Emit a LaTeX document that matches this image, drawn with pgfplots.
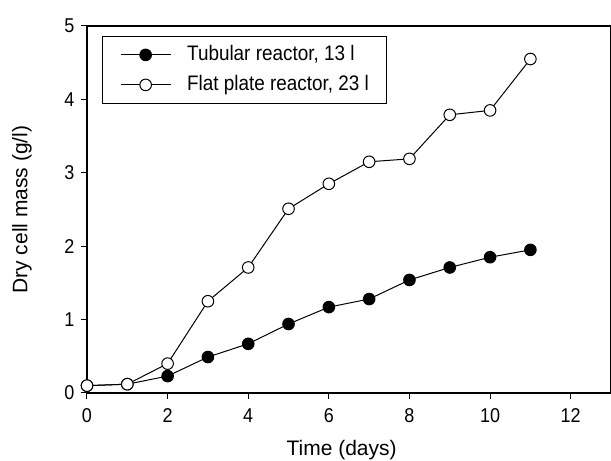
\documentclass[border=0pt]{standalone}
\usepackage{fontspec}
\setmainfont{Liberation Sans}
\newfontfamily\narrow{Liberation Sans}[FakeStretch=0.9]
\usepackage{pgfplots}
\pgfplotsset{compat=1.18}

\begin{document}
\begin{tikzpicture}
\begin{axis}[
    scale only axis, width=524pt, height=367pt,
    xmin=0, xmax=13, ymin=0, ymax=5,
    xtick={0,2,...,12}, ytick={0,1,...,5},
    tick align=outside, tick pos=left, major tick length=6pt,
    tick style={line width=1pt, black},
    axis line style={line width=1.3pt},
    /pgf/number format/assume math mode=true,
    tick label style={font=\narrow\fontsize{20}{23}\selectfont},
    xticklabel style={yshift=-6pt},
    yticklabel style={xshift=-3pt},
    label style={font=\fontsize{21}{24}\selectfont},
    xlabel={Time (days)}, ylabel={Dry cell mass (g/l)},
    xlabel style={at={(axis description cs:0.486,-0.155)}, anchor=center},
    ylabel style={at={(axis description cs:-0.124,0.5)}, anchor=center},
    clip=false,
    legend style={at={(axis description cs:0.028,0.973)}, anchor=north west,
        draw=black, line width=1pt, font=\narrow\fontsize{21}{24}\selectfont,
        inner xsep=18pt, inner ysep=8pt, row sep=9pt, column sep=16pt,
        nodes={inner sep=0pt, text height=16pt, text depth=5pt}},
    legend cell align=left,
    legend image code/.code={\draw[mark repeat=2,mark phase=2,#1]
        plot coordinates {(0pt,0pt) (25pt,0pt) (50pt,0pt)};},
    every axis plot/.append style={black, line width=1pt, mark size=5.8pt,
        mark options={line width=1.1pt}},
]
\addplot[mark=*, mark options={fill=black}] coordinates {
    (0,0.10) (1,0.12) (2,0.23) (3,0.49) (4,0.67) (5,0.94)
    (6,1.17) (7,1.28) (8,1.54) (9,1.71) (10,1.85) (11,1.95)};
\addlegendentry{Tubular reactor, 13 l}
\addplot[mark=*, mark options={fill=white}] coordinates {
    (0,0.10) (1,0.12) (2,0.40) (3,1.25) (4,1.71) (5,2.51)
    (6,2.85) (7,3.15) (8,3.19) (9,3.79) (10,3.85) (11,4.55)};
\addlegendentry{Flat plate reactor, 23 l}
\end{axis}
\pgfresetboundingbox
\path[use as bounding box] ([shift={(-87pt,-68pt)}]current axis.south west)
    rectangle ([shift={(0pt,26pt)}]current axis.north east);
\end{tikzpicture}
\end{document}
